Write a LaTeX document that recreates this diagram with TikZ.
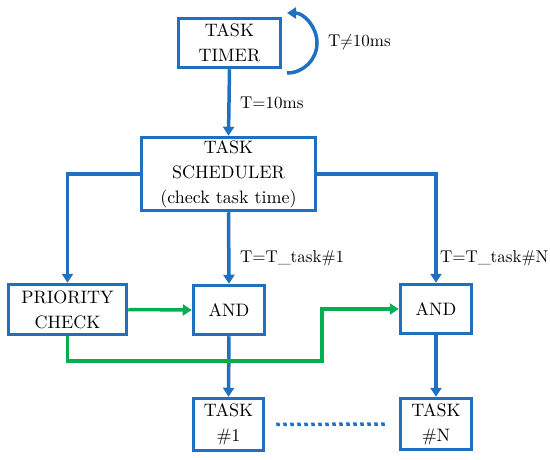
\documentclass[tikz,border=0pt]{standalone}
\usepackage{fontspec}
\setmainfont{lmroman10-regular.otf}
\usetikzlibrary{arrows.meta}
\definecolor{bl}{RGB}{31,112,193}
\definecolor{gr}{RGB}{0,176,80}
\begin{document}
\begin{tikzpicture}[x=1pt,y=1pt,
  box/.style={draw=bl,line width=3.5pt,fill=white,inner sep=0pt,align=center,
    font=\rmfamily\fontsize{18}{25}\selectfont},
  bar/.style={draw=bl,line width=3.5pt,-{Triangle[length=9pt,width=11pt]}},
  gar/.style={draw=gr,line width=3.5pt,-{Triangle[length=9pt,width=11pt]}},
  lab/.style={anchor=west,inner sep=0pt,font=\rmfamily\fontsize{17}{22}\selectfont}]
\useasboundingbox (0,0) rectangle (550,459);
\node[box,minimum width=102pt,minimum height=49pt] (timer) at (229.5,416) {TASK\\TIMER};
\node[box,minimum width=174pt,minimum height=73pt] (sched) at (228.5,285) {TASK\\SCHEDULER\\(check task time)};
\node[box,minimum width=118pt,minimum height=50pt] (prio) at (67.5,149.5) {PRIORITY\\CHECK};
\node[box,minimum width=71pt,minimum height=49pt] (and1) at (229,149) {AND};
\node[box,minimum width=71pt,minimum height=49pt] (andN) at (436,150) {AND};
\node[box,minimum width=70pt,minimum height=52pt] (task1) at (228.5,34.5) {TASK\\\#1};
\node[box,minimum width=71pt,minimum height=51pt] (taskN) at (436,35) {TASK\\\#N};
\coordinate (loopS) at (287,386);
\coordinate (g1) at (322,98);
\draw[bar] (loopS) arc[start angle=-90,end angle=90,radius=30];
\draw[bar] (timer.south) -- (sched.north);
\draw[bar] (sched.west) -| (prio.north);
\draw[bar] (sched.south) -- (and1.north);
\draw[bar] (sched.east) -| (andN.north);
\draw[bar] (and1.south) -- (task1.north);
\draw[bar] (andN.south) -- (taskN.north);
\draw[gar] (prio.east) -- (and1.west);
\draw[gar] (prio.south) |- (g1) |- (andN.west);
\draw[draw=bl,line width=3.5pt,dash pattern=on 3.5pt off 3.5pt] ([xshift=11pt]task1.east) -- ([xshift=-11pt]taskN.west);
\node[lab] (l1) at (240,356) {T=10ms};
\node[lab] (l2) at (328,417) {T$\neq$10ms};
\node[lab] (l3) at (240,201) {T=T\_task\#1};
\node[lab] (l4) at (440,201) {T=T\_task\#N};
\end{tikzpicture}
\end{document}
